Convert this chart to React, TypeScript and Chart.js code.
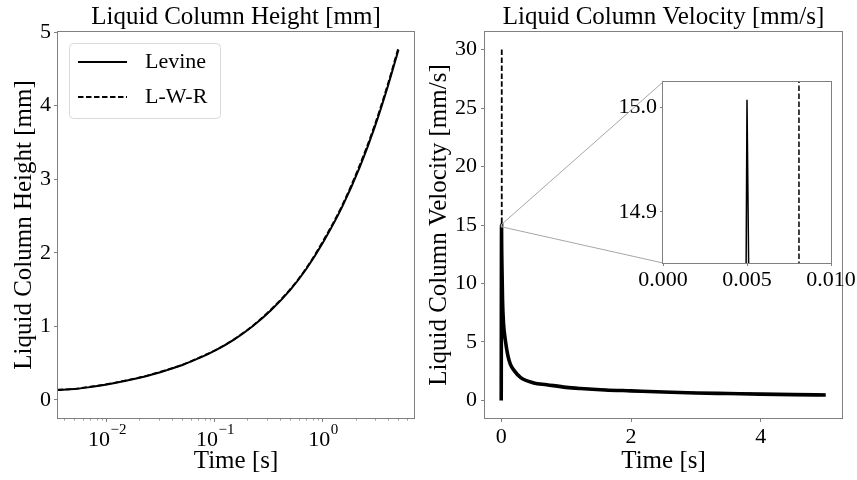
import React, { useEffect, useRef } from 'react';
import { Chart, registerables } from 'chart.js';

Chart.register(...registerables);

// ---------- data ----------
const seriesLabels = ['Levine', 'L-W-R'];

// Left panel: liquid column height [mm] vs time [s]
const heightTime = [0.0035, 0.005, 0.007, 0.01, 0.015, 0.022, 0.035, 0.05, 0.07, 0.1, 0.15, 0.22, 0.33, 0.5, 0.7, 1.0, 1.5, 2.2, 3.0, 4.0, 5.0];
const heightLevine = [0.136, 0.148, 0.175, 0.21, 0.26, 0.315, 0.4, 0.475, 0.565, 0.67, 0.82, 0.995, 1.22, 1.5, 1.78, 2.14, 2.62, 3.17, 3.7, 4.27, 4.76];
const heightLWR = [0.14, 0.152, 0.18, 0.215, 0.265, 0.32, 0.405, 0.48, 0.57, 0.675, 0.825, 1.0, 1.23, 1.51, 1.79, 2.16, 2.64, 3.2, 3.73, 4.3, 4.79];

// Right panel: liquid column velocity [mm/s] vs time [s]
const velTimeLevine = [0, 0.005, 0.0055, 0.01, 0.02, 0.035, 0.062, 0.1, 0.14, 0.2, 0.3, 0.5, 0.7, 1.0, 1.22, 1.6, 2.0, 2.5, 3.0, 3.5, 4.0, 4.5, 5.0];
const velLevine = [0, 15.007, 14.2, 11.8, 8.6, 6.6, 5.2, 3.9, 3.1, 2.55, 1.95, 1.5, 1.35, 1.12, 1.02, 0.9, 0.82, 0.72, 0.64, 0.59, 0.54, 0.5, 0.47];
const velTimeLWR = [0.008, 0.0081, 0.012, 0.02, 0.035, 0.062, 0.1, 0.14, 0.2, 0.3, 0.5, 0.7, 1.0, 1.22, 1.6, 2.0, 2.5, 3.0, 3.5, 4.0, 4.5, 5.0];
const velLWR = [30, 13.9, 11.2, 8.8, 6.7, 5.3, 3.95, 3.15, 2.6, 1.98, 1.53, 1.37, 1.14, 1.04, 0.92, 0.84, 0.74, 0.66, 0.61, 0.56, 0.52, 0.49];

// Ticks
const heightYTicks = [0, 1, 2, 3, 4, 5];
const logMajorTicks = [0.01, 0.1, 1];
const logMajorExponents = ['\u22122', '\u22121', '0'];
const logMinorTicks = [0.004, 0.005, 0.006, 0.007, 0.008, 0.009, 0.02, 0.03, 0.04, 0.05, 0.06, 0.07, 0.08, 0.09, 0.2, 0.3, 0.4, 0.5, 0.6, 0.7, 0.8, 0.9, 2, 3, 4, 5, 6];
const velYTicks = [0, 5, 10, 15, 20, 25, 30];
const velXTicks = [0, 2, 4];
const insetXTicks = [0, 0.005, 0.01];
const insetYTicks = [14.9, 15.0];
const insetXRange = [0, 0.01];
const insetYRange = [14.851, 15.024];

// ---------- styles ----------
const FONT = "'Liberation Serif', 'Times New Roman', Times, serif";
const GRAY = '#808080';
const DASH = [5.5, 2.5];

const pts = (xs: number[], ys: number[]) => xs.map((x, i) => ({ x, y: ys[i] }));

const framePlugin = {
  id: 'frame',
  afterDraw(chart: any) {
    const { ctx, chartArea: a } = chart;
    ctx.save();
    ctx.strokeStyle = GRAY;
    ctx.lineWidth = 1;
    const l = Math.round(a.left) - 0.5;
    const t = Math.round(a.top) - 0.5;
    const r = Math.round(a.right) + 0.5;
    const b = Math.round(a.bottom) + 0.5;
    ctx.strokeRect(l, t, r - l, b - t);
    ctx.restore();
  },
};

const tickFont = { family: FONT, size: 22 };
const labelFont = { family: FONT, size: 25, lineHeight: 1 };

export default function App() {
  const leftRef = useRef<HTMLCanvasElement | null>(null);
  const rightRef = useRef<HTMLCanvasElement | null>(null);
  const insetRef = useRef<HTMLCanvasElement | null>(null);

  useEffect(() => {
    Chart.defaults.color = '#000';
    Chart.defaults.font.family = FONT;

    const legendPlugin = {
      id: 'boxLegend',
      afterDraw(chart: any) {
        const { ctx, chartArea: a } = chart;
        const bx = a.left + 11;
        const by = a.top + 11;
        const bw = 151;
        const bh = 75;
        ctx.save();
        ctx.beginPath();
        if (ctx.roundRect) ctx.roundRect(bx + 0.5, by + 0.5, bw, bh, 4);
        else ctx.rect(bx + 0.5, by + 0.5, bw, bh);
        ctx.fillStyle = 'rgba(255,255,255,0.8)';
        ctx.fill();
        ctx.strokeStyle = '#d9d9d9';
        ctx.lineWidth = 1;
        ctx.stroke();
        chart.data.datasets.forEach((ds: any, i: number) => {
          const cy = by + 19 + i * 35;
          ctx.beginPath();
          ctx.setLineDash(ds.borderDash || []);
          ctx.lineWidth = 1.8;
          ctx.strokeStyle = '#000';
          ctx.moveTo(bx + 9, cy);
          ctx.lineTo(bx + 58, cy);
          ctx.stroke();
          ctx.setLineDash([]);
          ctx.fillStyle = '#000';
          ctx.font = `22px ${FONT}`;
          ctx.textBaseline = 'middle';
          ctx.textAlign = 'left';
          ctx.fillText(ds.label, bx + 76, cy);
        });
        ctx.restore();
      },
    };

    // minor ticks + "10^n" labels with a real superscript
    const logAxisPlugin = {
      id: 'logAxis',
      afterDraw(chart: any) {
        const { ctx, chartArea: a } = chart;
        const s = chart.scales.x;
        const bottom = Math.round(a.bottom);
        ctx.save();
        ctx.strokeStyle = GRAY;
        ctx.lineWidth = 0.8;
        logMinorTicks.forEach((v) => {
          if (v < s.min || v > s.max) return;
          const px = Math.round(s.getPixelForValue(v)) + 0.5;
          ctx.beginPath();
          ctx.moveTo(px, bottom);
          ctx.lineTo(px, bottom + 2.5);
          ctx.stroke();
        });
        ctx.fillStyle = '#000';
        ctx.textBaseline = 'alphabetic';
        ctx.textAlign = 'left';
        logMajorTicks.forEach((v, i) => {
          const px = s.getPixelForValue(v);
          ctx.font = `22px ${FONT}`;
          const baseW = ctx.measureText('10').width;
          ctx.font = `15px ${FONT}`;
          const expW = ctx.measureText(logMajorExponents[i]).width;
          const x0 = px - (baseW + expW) / 2;
          ctx.font = `22px ${FONT}`;
          ctx.fillText('10', x0, bottom + 28);
          ctx.font = `15px ${FONT}`;
          ctx.fillText(logMajorExponents[i], x0 + baseW + 0.5, bottom + 16);
        });
        ctx.restore();
      },
    };

    const left = new Chart(leftRef.current as HTMLCanvasElement, {
      type: 'line',
      data: {
        datasets: [
          { label: seriesLabels[0], data: pts(heightTime, heightLevine), borderColor: '#000', borderWidth: 2, pointRadius: 0, cubicInterpolationMode: 'monotone', fill: false },
          { label: seriesLabels[1], data: pts(heightTime, heightLWR), borderColor: '#000', borderWidth: 1.8, borderDash: DASH, pointRadius: 0, cubicInterpolationMode: 'monotone', fill: false },
        ],
      },
      options: {
        responsive: false,
        animation: false,
        events: [],
        layout: { padding: { left: 0, right: 10, top: 0, bottom: 0 } },
        plugins: {
          legend: { display: false },
          tooltip: { enabled: false },
          title: { display: true, fullSize: false, text: 'Liquid Column Height [mm]', color: '#000', font: { ...labelFont, weight: 'normal' }, padding: { top: 5, bottom: 2 } },
        },
        scales: {
          x: {
            type: 'logarithmic',
            min: 0.00352,
            max: 6.96,
            afterBuildTicks: (s: any) => { s.ticks = logMajorTicks.map((v) => ({ value: v, major: true })); },
            afterFit: (s: any) => { s.height = 62; },
            ticks: {
              autoSkip: false,
              maxRotation: 0,
              color: '#000',
              font: tickFont,
              padding: 5,
              callback: () => '',
            },
            grid: { drawOnChartArea: false, drawTicks: true, tickLength: 4, tickColor: GRAY },
            border: { display: false },
            title: { display: true, text: 'Time [s]', color: '#000', font: labelFont, padding: { top: 0, bottom: 6 } },
          },
          y: {
            type: 'linear',
            min: -0.245,
            max: 5,
            afterBuildTicks: (s: any) => { s.ticks = heightYTicks.map((v) => ({ value: v })); },
            afterFit: (s: any) => { s.width = 58; },
            ticks: { color: '#000', font: tickFont, padding: 3, callback: (v: any) => String(v) },
            grid: { drawOnChartArea: false, drawTicks: true, tickLength: 4, tickColor: GRAY },
            border: { display: false },
            title: { display: true, text: 'Liquid Column Height [mm]', color: '#000', font: labelFont, padding: { top: 11.5, bottom: 0 } },
          },
        },
      } as any,
      plugins: [framePlugin, logAxisPlugin, legendPlugin],
    });

    const right = new Chart(rightRef.current as HTMLCanvasElement, {
      type: 'line',
      data: {
        datasets: [
          { label: seriesLabels[0], data: pts(velTimeLevine, velLevine), borderColor: '#000', borderWidth: 3.6, pointRadius: 0, cubicInterpolationMode: 'monotone', fill: false },
          { label: seriesLabels[1], data: pts(velTimeLWR, velLWR), borderColor: '#000', borderWidth: 1.8, borderDash: DASH, pointRadius: 0, cubicInterpolationMode: 'monotone', fill: false },
        ],
      },
      options: {
        responsive: false,
        animation: false,
        events: [],
        layout: { padding: { left: 0, right: 15, top: 0, bottom: 0 } },
        plugins: {
          legend: { display: false },
          tooltip: { enabled: false },
          title: { display: true, fullSize: false, text: 'Liquid Column Velocity [mm/s]', color: '#000', font: { ...labelFont, weight: 'normal' }, padding: { top: 5, bottom: 2 } },
        },
        scales: {
          x: {
            type: 'linear',
            min: -0.25,
            max: 5.25,
            afterBuildTicks: (s: any) => { s.ticks = velXTicks.map((v) => ({ value: v })); },
            afterFit: (s: any) => { s.height = 62; },
            ticks: { autoSkip: false, maxRotation: 0, color: '#000', font: tickFont, padding: 2, callback: (v: any) => String(v) },
            grid: { drawOnChartArea: false, drawTicks: true, tickLength: 4, tickColor: GRAY },
            border: { display: false },
            title: { display: true, text: 'Time [s]', color: '#000', font: labelFont, padding: { top: 0, bottom: 6 } },
          },
          y: {
            type: 'linear',
            min: -1.5,
            max: 31.5,
            afterBuildTicks: (s: any) => { s.ticks = velYTicks.map((v) => ({ value: v })); },
            afterFit: (s: any) => { s.width = 61; },
            ticks: { color: '#000', font: tickFont, padding: 4, callback: (v: any) => String(v) },
            grid: { drawOnChartArea: false, drawTicks: true, tickLength: 4, tickColor: GRAY },
            border: { display: false },
            title: { display: true, text: 'Liquid Column Velocity [mm/s]', color: '#000', font: labelFont, padding: { top: 2.5, bottom: 0 } },
          },
        },
      } as any,
      plugins: [framePlugin],
    });

    const insetPlugin = {
      id: 'insetBg',
      beforeDraw(chart: any) {
        const { ctx, chartArea: a } = chart;
        const rx = right.scales.x;
        const ry = right.scales.y;
        const x0 = rx.getPixelForValue(insetXRange[0]);
        const x1 = rx.getPixelForValue(insetXRange[1]);
        const yT = ry.getPixelForValue(insetYRange[1]);
        const yB = ry.getPixelForValue(insetYRange[0]);
        ctx.save();
        ctx.fillStyle = '#fff';
        ctx.fillRect(a.left, a.top, a.right - a.left, a.bottom - a.top);
        ctx.strokeStyle = '#a6a6a6';
        ctx.lineWidth = 1;
        ctx.beginPath();
        ctx.moveTo(x0, yT);
        ctx.lineTo(a.left, a.top);
        ctx.moveTo(x0, yB);
        ctx.lineTo(a.left, a.bottom);
        ctx.stroke();
        ctx.strokeRect(x0, yT, Math.max(x1 - x0, 0.5), yB - yT);
        ctx.restore();
      },
    };

    const inset = new Chart(insetRef.current as HTMLCanvasElement, {
      type: 'line',
      data: {
        datasets: [
          { label: seriesLabels[0], data: pts(velTimeLevine, velLevine), borderColor: '#000', borderWidth: 1.5, pointRadius: 0, tension: 0, fill: false },
          { label: seriesLabels[1], data: pts(velTimeLWR, velLWR), borderColor: '#000', borderWidth: 1.5, borderDash: DASH, pointRadius: 0, tension: 0, fill: false },
        ],
      },
      options: {
        responsive: false,
        animation: false,
        events: [],
        layout: { padding: { left: 169, right: 26, top: 82, bottom: 177 } },
        plugins: { legend: { display: false }, tooltip: { enabled: false }, title: { display: false } },
        scales: {
          x: {
            type: 'linear',
            min: insetXRange[0],
            max: insetXRange[1],
            afterBuildTicks: (s: any) => { s.ticks = insetXTicks.map((v) => ({ value: v })); },
            afterFit: (s: any) => { s.height = 40; },
            ticks: { autoSkip: false, maxRotation: 0, color: '#000', font: tickFont, padding: 1, callback: (v: any) => Number(v).toFixed(3) },
            grid: { drawOnChartArea: false, drawTicks: true, tickLength: 3, tickColor: GRAY },
            border: { display: false },
          },
          y: {
            type: 'linear',
            min: insetYRange[0],
            max: insetYRange[1],
            afterBuildTicks: (s: any) => { s.ticks = insetYTicks.map((v) => ({ value: v })); },
            afterFit: (s: any) => { s.width = 70; },
            ticks: { color: '#000', font: tickFont, padding: 3, callback: (v: any) => Number(v).toFixed(1) },
            grid: { drawOnChartArea: false, drawTicks: true, tickLength: 3, tickColor: GRAY },
            border: { display: false },
          },
        },
      } as any,
      plugins: [insetPlugin, framePlugin],
    });

    return () => {
      inset.destroy();
      right.destroy();
      left.destroy();
    };
  }, []);

  return (
    <div style={{ position: 'fixed', left: 0, top: 0, width: 857, height: 480, background: '#fff', overflow: 'hidden' }}>
      <canvas ref={leftRef} width={424} height={480} style={{ position: 'absolute', left: 0, top: 0, width: 424, height: 480 }} />
      <canvas ref={rightRef} width={433} height={480} style={{ position: 'absolute', left: 424, top: 0, width: 433, height: 480 }} />
      <canvas ref={insetRef} width={433} height={480} style={{ position: 'absolute', left: 424, top: 0, width: 433, height: 480 }} />
    </div>
  );
}
